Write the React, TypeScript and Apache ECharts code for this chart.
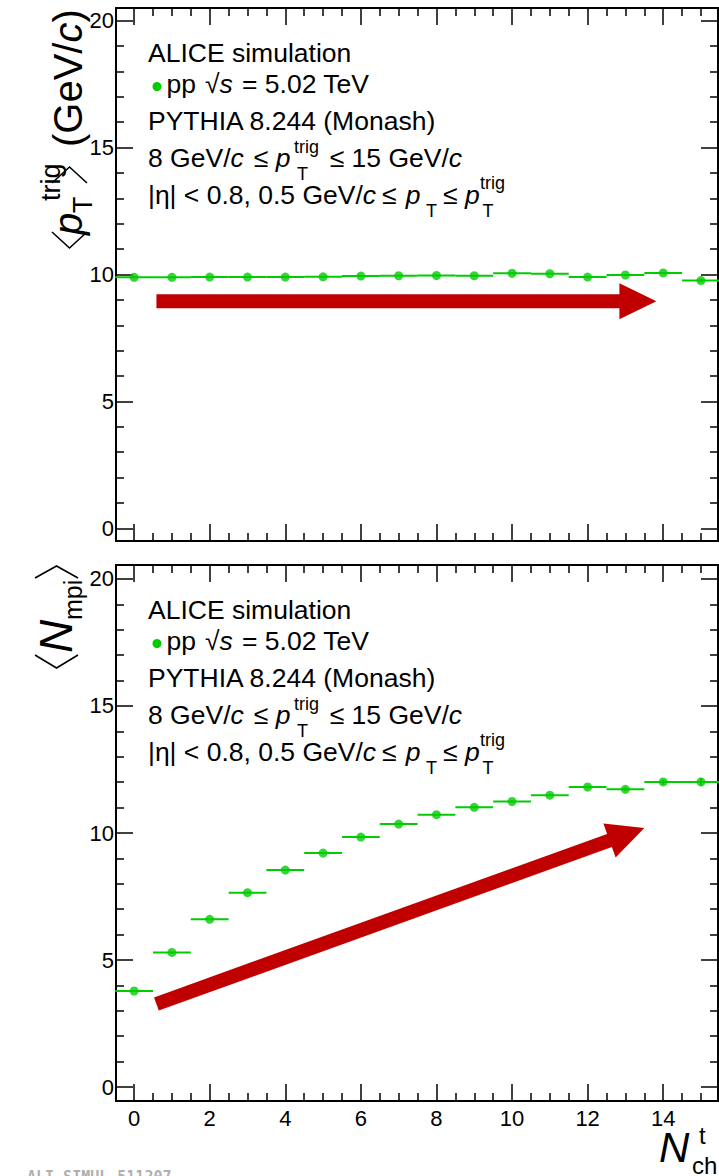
import React, { useEffect, useRef } from "react";
import * as echarts from "echarts";

// ---------------- data ----------------
const nchBins = [0, 1, 2, 3, 4, 5, 6, 7, 8, 9, 10, 11, 12, 13, 14, 15];
const meanPtTrig = [9.89, 9.89, 9.9, 9.9, 9.9, 9.91, 9.94, 9.95, 9.96, 9.95, 10.05, 10.03, 9.9, 9.98, 10.06, 9.76];
const meanPtTrigErr = [0.01, 0.01, 0.01, 0.01, 0.01, 0.01, 0.01, 0.01, 0.01, 0.01, 0.02, 0.02, 0.02, 0.03, 0.04, 0.06];
const meanNmpi = [3.78, 5.3, 6.6, 7.65, 8.54, 9.21, 9.84, 10.35, 10.72, 11.01, 11.24, 11.49, 11.81, 11.72, 12.01, 12.01];
const meanNmpiErr = [0.01, 0.01, 0.01, 0.01, 0.01, 0.02, 0.02, 0.02, 0.03, 0.03, 0.04, 0.05, 0.06, 0.08, 0.1, 0.16];
const binHalfWidth = 0.5;

const xMajorTicks = [0, 2, 4, 6, 8, 10, 12, 14];
const xMinorTicks = [0.5, 1, 1.5, 2.5, 3, 3.5, 4.5, 5, 5.5, 6.5, 7, 7.5, 8.5, 9, 9.5, 10.5, 11, 11.5, 12.5, 13, 13.5, 14.5, 15];
const yMajorTicks = [0, 5, 10, 15, 20];
const yMinorTicks = [1, 2, 3, 4, 6, 7, 8, 9, 11, 12, 13, 14, 16, 17, 18, 19];

// arrows: [xStart, yStart, xEnd, yEnd] in data units
const ptTrigArrow = [0.59, 8.95, 13.82, 8.95];
const nmpiArrow = [0.59, 3.27, 13.5, 10.2];

const X_MIN = -0.48;
const X_MAX = 15.45;
const Y0_MIN = -0.5;
const Y0_MAX = 20.5;
const Y1_MIN = -0.55;
const Y1_MAX = 20.55;

const GREEN = "#00cc00";
const RED = "#c00000";
const FONT = '"Liberation Sans", Arial, Helvetica, sans-serif';

// ---------------- helpers ----------------
function xAxisDef(gridIndex: number, position: string, values: number[], len: number, labels: boolean) {
  return {
    type: "value",
    gridIndex,
    position,
    min: X_MIN,
    max: X_MAX,
    axisLine: { show: true, onZero: false, lineStyle: { color: "#000", width: 2 } },
    axisTick: { show: true, inside: true, length: len, customValues: values, lineStyle: { color: "#000", width: 1.5 } },
    axisLabel: labels
      ? { show: true, customValues: values, color: "#000", fontSize: 22, fontFamily: FONT, margin: 6 }
      : { show: false },
    splitLine: { show: false },
    minorTick: { show: false },
    minorSplitLine: { show: false },
  };
}

function yAxisDef(gridIndex: number, position: string, values: number[], len: number, labels: boolean, min: number, max: number) {
  return {
    type: "value",
    gridIndex,
    position,
    min,
    max,
    axisLine: { show: true, onZero: false, lineStyle: { color: "#000", width: 2 } },
    axisTick: { show: true, inside: true, length: len, customValues: values, lineStyle: { color: "#000", width: 1.5 } },
    axisLabel: labels
      ? { show: true, customValues: values, color: "#000", fontSize: 22, fontFamily: FONT, margin: 2 }
      : { show: false },
    splitLine: { show: false },
    minorTick: { show: false },
    minorSplitLine: { show: false },
  };
}

function errorBarRender(params: any, api: any) {
  const x = api.value(0);
  const y = api.value(1);
  const e = api.value(2);
  const l = api.coord([x - binHalfWidth, y]);
  const r = api.coord([x + binHalfWidth, y]);
  const lo = api.coord([x, y - e]);
  const hi = api.coord([x, y + e]);
  return {
    type: "group",
    children: [
      { type: "line", shape: { x1: l[0], y1: l[1], x2: r[0], y2: r[1] }, style: { stroke: GREEN, lineWidth: 2 } },
      { type: "line", shape: { x1: lo[0], y1: lo[1], x2: hi[0], y2: hi[1] }, style: { stroke: GREEN, lineWidth: 2 } },
    ],
  };
}

function arrowRender(params: any, api: any) {
  const p0 = api.coord([api.value(0), api.value(1)]);
  const p1 = api.coord([api.value(2), api.value(3)]);
  const dx = p1[0] - p0[0];
  const dy = p1[1] - p0[1];
  const L = Math.hypot(dx, dy);
  const ux = dx / L;
  const uy = dy / L;
  const nx = -uy;
  const ny = ux;
  const hw = 7;
  const hl = 37;
  const hh = 18;
  const bx = p1[0] - ux * hl;
  const by = p1[1] - uy * hl;
  const points = [
    [p0[0] + nx * hw, p0[1] + ny * hw],
    [bx + nx * hw, by + ny * hw],
    [bx + nx * hh, by + ny * hh],
    [p1[0], p1[1]],
    [bx - nx * hh, by - ny * hh],
    [bx - nx * hw, by - ny * hw],
    [p0[0] - nx * hw, p0[1] - ny * hw],
  ];
  return { type: "polygon", shape: { points }, style: { fill: RED } };
}

function richItalic(size: number) {
  return { i: { fontStyle: "italic", fontSize: size, fontFamily: FONT, fill: "#000" } };
}

function txt(x: number, baseline: number, text: string, size: number, italic = false, rich = false, lineHeight?: number) {
  return {
    type: "text",
    x,
    y: baseline - 0.35 * size,
    z: 100,
    silent: true,
    style: {
      text,
      fontFamily: FONT,
      fontSize: size,
      fontStyle: italic ? "italic" : "normal",
      fill: "#000",
      align: "left",
      verticalAlign: "middle",
      textAlign: "left",
      textVerticalAlign: "middle",
      ...(lineHeight ? { lineHeight } : {}),
      ...(rich ? { rich: richItalic(size) } : {}),
    },
  };
}

function rtxt(baselineX: number, startY: number, text: string, size: number, italic = false, rich = false) {
  return {
    type: "text",
    x: baselineX - 0.35 * size,
    y: startY,
    rotation: Math.PI / 2,
    z: 100,
    silent: true,
    style: {
      text,
      fontFamily: FONT,
      fontSize: size,
      fontStyle: italic ? "italic" : "normal",
      fill: "#000",
      align: "left",
      verticalAlign: "middle",
      textAlign: "left",
      textVerticalAlign: "middle",
      ...(rich ? { rich: richItalic(size) } : {}),
    },
  };
}

function bracket(points: number[][]) {
  return {
    type: "polyline",
    z: 100,
    silent: true,
    shape: { points },
    style: { stroke: "#000", lineWidth: 1.6, fill: "none" },
  };
}

function legendBlock(dy: number) {
  const S = 26.5;
  const s = 18;
  const sl = 13; // compact line box for scripts
  return [
    txt(148, 62 + dy, "ALICE simulation", S),
    { type: "circle", z: 100, silent: true, shape: { cx: 157, cy: 86.5 + dy, r: 4.5 }, style: { fill: GREEN } },
    txt(166.5, 93 + dy, "pp", S),
    txt(205, 93 + dy, "√{i|s}", S, false, true),
    txt(242, 93 + dy, "= 5.02 TeV", S),
    txt(148, 130 + dy, "PYTHIA 8.244 (Monash)", S),
    txt(148, 167 + dy, "8 GeV/{i|c}", S, false, true),
    txt(253.7, 167 + dy, "≤", S),
    txt(275.7, 167 + dy, "p", S, true),
    txt(294, 153 + dy, "trig", s, false, false, sl),
    txt(297, 180 + dy, "T", s, false, false, sl),
    txt(329.7, 167 + dy, "≤ 15 GeV/{i|c}", S, false, true),
    txt(148, 204 + dy, "|η| < 0.8, 0.5 GeV/{i|c}", S, false, true),
    txt(382, 204 + dy, "≤", S),
    txt(405.7, 204 + dy, "p", S, true),
    txt(426, 217 + dy, "T", s, false, false, sl),
    txt(443, 204 + dy, "≤", S),
    txt(465, 204 + dy, "p", S, true),
    txt(480, 189 + dy, "trig", s, false, false, sl),
    txt(482.4, 217 + dy, "T", s, false, false, sl),
  ];
}

export default function App() {
  const ref = useRef<HTMLDivElement>(null);

  useEffect(() => {
    if (!ref.current) return;
    const chart = echarts.init(ref.current, null, { renderer: "svg" });

    const graphics: any[] = [
      ...legendBlock(0),
      ...legendBlock(557),
      // top y title: <p_T^trig> (GeV/c)
      bracket([[52, 232], [69.5, 248], [87, 232]]),
      rtxt(82, 235, "p", 40, true),
      rtxt(92, 213, "T", 27),
      rtxt(60, 201, "trig", 27),
      bracket([[52, 183], [69.5, 167], [87, 183]]),
      rtxt(82, 147, "(GeV/{i|c})", 40, false, true),
      // bottom y title: <N_mpi>
      bracket([[35, 655], [56.5, 668], [78, 655]]),
      rtxt(72, 653, "N", 46, true),
      rtxt(82, 620, "mpi", 25),
      bracket([[35, 578], [56.5, 566], [78, 578]]),
      // x title
      txt(659, 1162, "N", 42, true, false, 30),
      txt(699, 1144, "t", 24, false, false, 18),
      txt(692, 1174, "ch", 24, false, false, 18),
      // watermark
      {
        type: "text",
        x: 27,
        y: 1169,
        z: 100,
        silent: true,
        style: {
          text: "ALI-SIMUL-511207",
          fontFamily: '"DejaVu Sans Mono", "Liberation Mono", monospace',
          fontSize: 15,
          fontWeight: "bold",
          fill: "#b0b0b0",
          align: "left",
          verticalAlign: "top",
          textAlign: "left",
          textVerticalAlign: "top",
        },
      },
    ];

    const option: any = {
      animation: false,
      backgroundColor: "#fff",
      grid: [
        { left: 116, top: 8, width: 602, height: 533, containLabel: false, outerBoundsMode: "none" },
        { left: 116, top: 565, width: 602, height: 536, containLabel: false, outerBoundsMode: "none" },
      ],
      xAxis: [
        xAxisDef(0, "bottom", xMajorTicks, 17, false),
        xAxisDef(0, "bottom", xMinorTicks, 8, false),
        xAxisDef(0, "top", xMajorTicks, 17, false),
        xAxisDef(0, "top", xMinorTicks, 8, false),
        xAxisDef(1, "bottom", xMajorTicks, 17, true),
        xAxisDef(1, "bottom", xMinorTicks, 8, false),
        xAxisDef(1, "top", xMajorTicks, 17, false),
        xAxisDef(1, "top", xMinorTicks, 8, false),
      ],
      yAxis: [
        yAxisDef(0, "left", yMajorTicks, 17, true, Y0_MIN, Y0_MAX),
        yAxisDef(0, "left", yMinorTicks, 8, false, Y0_MIN, Y0_MAX),
        yAxisDef(0, "right", yMajorTicks, 17, false, Y0_MIN, Y0_MAX),
        yAxisDef(0, "right", yMinorTicks, 8, false, Y0_MIN, Y0_MAX),
        yAxisDef(1, "left", yMajorTicks, 17, true, Y1_MIN, Y1_MAX),
        yAxisDef(1, "left", yMinorTicks, 8, false, Y1_MIN, Y1_MAX),
        yAxisDef(1, "right", yMajorTicks, 17, false, Y1_MIN, Y1_MAX),
        yAxisDef(1, "right", yMinorTicks, 8, false, Y1_MIN, Y1_MAX),
      ],
      series: [
        {
          type: "custom",
          name: "ptTrigArrow",
          xAxisIndex: 0,
          yAxisIndex: 0,
          silent: true,
          z: 1,
          data: [ptTrigArrow],
          renderItem: arrowRender,
        },
        {
          type: "custom",
          name: "ptTrigErr",
          xAxisIndex: 0,
          yAxisIndex: 0,
          silent: true,
          z: 2,
          data: nchBins.map((x, i) => [x, meanPtTrig[i], meanPtTrigErr[i]]),
          encode: { x: 0, y: 1 },
          renderItem: errorBarRender,
        },
        {
          type: "scatter",
          name: "ptTrig",
          xAxisIndex: 0,
          yAxisIndex: 0,
          silent: true,
          z: 3,
          symbol: "circle",
          symbolSize: 9,
          itemStyle: { color: GREEN },
          data: nchBins.map((x, i) => [x, meanPtTrig[i]]),
        },
        {
          type: "custom",
          name: "nmpiArrow",
          xAxisIndex: 4,
          yAxisIndex: 4,
          silent: true,
          z: 1,
          data: [nmpiArrow],
          renderItem: arrowRender,
        },
        {
          type: "custom",
          name: "nmpiErr",
          xAxisIndex: 4,
          yAxisIndex: 4,
          silent: true,
          z: 2,
          data: nchBins.map((x, i) => [x, meanNmpi[i], meanNmpiErr[i]]),
          encode: { x: 0, y: 1 },
          renderItem: errorBarRender,
        },
        {
          type: "scatter",
          name: "nmpi",
          xAxisIndex: 4,
          yAxisIndex: 4,
          silent: true,
          z: 3,
          symbol: "circle",
          symbolSize: 9,
          itemStyle: { color: GREEN },
          data: nchBins.map((x, i) => [x, meanNmpi[i]]),
        },
      ],
      graphic: graphics,
    };

    chart.setOption(option);
    return () => {
      chart.dispose();
    };
  }, []);

  return (
    <div
      ref={ref}
      style={{ position: "absolute", left: 0, top: 0, width: 719, height: 1176, background: "#fff" }}
    />
  );
}
